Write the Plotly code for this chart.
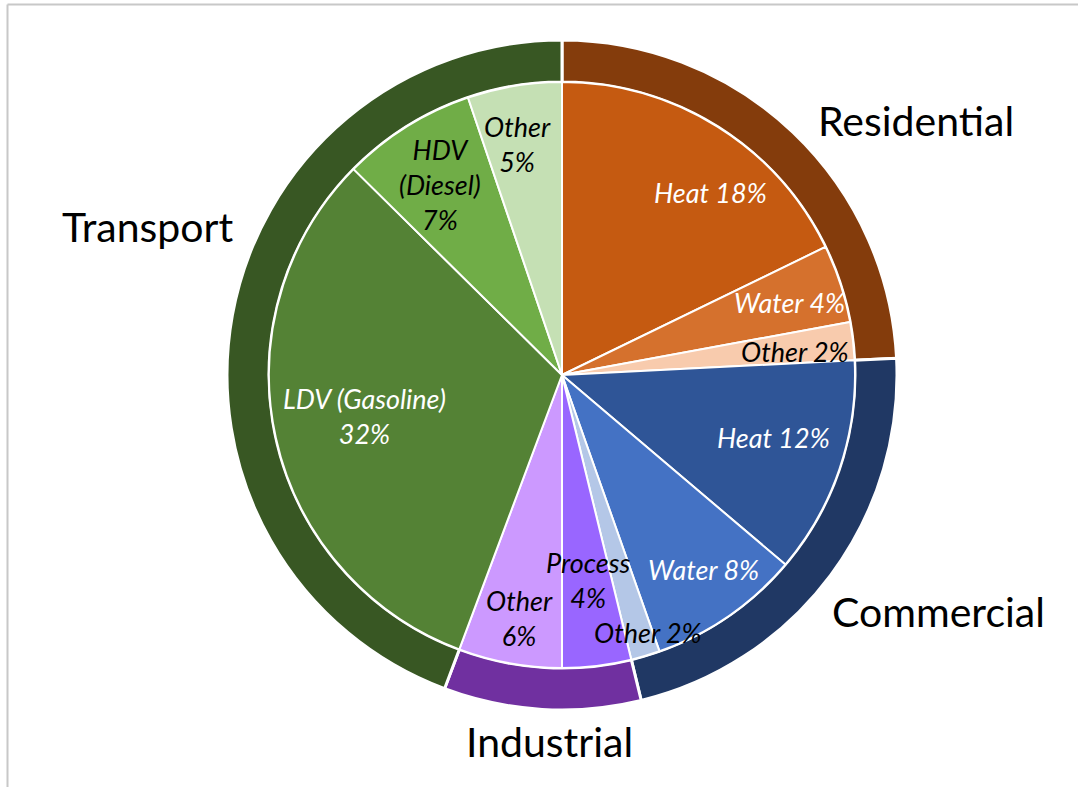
import math
import plotly.graph_objects as go

# ---------------- data ----------------
sectors = ["Residential", "Commercial", "Industrial", "Transport"]
sector_values = [24.2, 22.0, 9.5, 44.3]

sub_labels = ["Heat", "Water", "Other",
              "Heat", "Water", "Other",
              "Process", "Other",
              "LDV (Gasoline)", "HDV<br>(Diesel)", "Other"]
sub_values = [17.8, 4.3, 2.1,
              12.0, 8.4, 1.6,
              3.8, 5.7,
              31.7, 7.4, 5.2]
sub_parent = [0, 0, 0, 1, 1, 1, 2, 2, 3, 3, 3]

# ---------------- style ----------------
sector_colors = ["#843C0C", "#203864", "#7030A0", "#385723"]
sub_colors = ["#C55A11", "#D5712D", "#F8CBAD",
              "#2F5597", "#4472C4", "#B4C7E7",
              "#9966FF", "#CC99FF",
              "#548235", "#70AD47", "#C5E0B4"]
sub_text_colors = ["white", "white", "black",
                   "white", "white", "black",
                   "black", "black",
                   "white", "black", "black"]
sub_sep = [" ", " ", " ", " ", " ", " ", "<br>", "<br>", "<br>", "<br>", "<br>"]
# label placement: radius fraction and angular offset (deg) from slice middle
sub_rf = [0.805, 0.816, 0.799, 0.752, 0.821, 0.925, 0.705, 0.842, 0.690, 0.773, 0.803]
sub_doff = [7.11, 0.65, 1.02, -2.12, -1.34, -1.94, -0.36, -0.26, 0.72, -0.56, -1.44]
sec_rf = [1.300, 1.329, 1.096, 1.316]
sec_doff = [10.74, -4.57, -1.52, 9.49]

W, H = 1078, 787
CX, CY = 562, 375          # pixel centre
R_IN, R_OUT = 293, 335     # pixel radii
FONT = "Lato"


def px_x(x):
    return x / W


def px_y(y):
    return 1 - y / H


fig = go.Figure()

fig.add_trace(go.Pie(
    labels=sectors, values=sector_values,
    sort=False, direction="clockwise", rotation=0,
    hole=R_IN / R_OUT,
    marker=dict(colors=sector_colors, line=dict(color="white", width=3)),
    textinfo="none", showlegend=False,
    domain=dict(x=[px_x(CX - R_OUT), px_x(CX + R_OUT)],
                y=[px_y(CY + R_OUT), px_y(CY - R_OUT)]),
))

fig.add_trace(go.Pie(
    labels=[f"{sectors[p]} {l.replace('<br>', ' ')}" for p, l in zip(sub_parent, sub_labels)],
    values=sub_values,
    sort=False, direction="clockwise", rotation=0,
    marker=dict(colors=sub_colors, line=dict(color="white", width=2)),
    textinfo="none", showlegend=False,
    domain=dict(x=[px_x(CX - R_IN), px_x(CX + R_IN)],
                y=[px_y(CY + R_IN), px_y(CY - R_IN)]),
))

annotations = []
total = sum(sub_values)
cum = 0
for i, v in enumerate(sub_values):
    mid = (cum + v / 2) / total * 360 + sub_doff[i]
    cum += v
    r = sub_rf[i] * R_IN
    x = CX + r * math.sin(math.radians(mid))
    y = CY - r * math.cos(math.radians(mid))
    annotations.append(dict(
        x=px_x(x), y=px_y(y), xref="paper", yref="paper",
        text=f"{sub_labels[i]}{sub_sep[i]}{round(v)}%", showarrow=False,
        xanchor="center", yanchor="middle",
        font=dict(family=FONT, size=27, color=sub_text_colors[i], style="italic"),
    ))

total = sum(sector_values)
cum = 0
for i, v in enumerate(sector_values):
    mid = (cum + v / 2) / total * 360 + sec_doff[i]
    cum += v
    r = sec_rf[i] * R_OUT
    x = CX + r * math.sin(math.radians(mid))
    y = CY - r * math.cos(math.radians(mid))
    annotations.append(dict(
        x=px_x(x), y=px_y(y), xref="paper", yref="paper",
        text=sectors[i], showarrow=False,
        xanchor="center", yanchor="middle",
        font=dict(family=FONT, size=41, color="black"),
    ))

shapes = [
    dict(type="line", xref="paper", yref="paper",
         x0=px_x(7.5), x1=px_x(7.5), y0=0, y1=px_y(4.5),
         line=dict(color="#C8C8C8", width=2)),
    dict(type="line", xref="paper", yref="paper",
         x0=px_x(7.5), x1=1, y0=px_y(4.5), y1=px_y(4.5),
         line=dict(color="#C8C8C8", width=2)),
]

fig.update_layout(
    width=W, height=H,
    margin=dict(l=0, r=0, t=0, b=0),
    paper_bgcolor="white", plot_bgcolor="white",
    annotations=annotations, shapes=shapes,
    showlegend=False,
)

fig.write_html("out.html", config={"displayModeBar": False},
               post_script="document.body.style.margin='0';document.body.style.overflow='hidden';")
